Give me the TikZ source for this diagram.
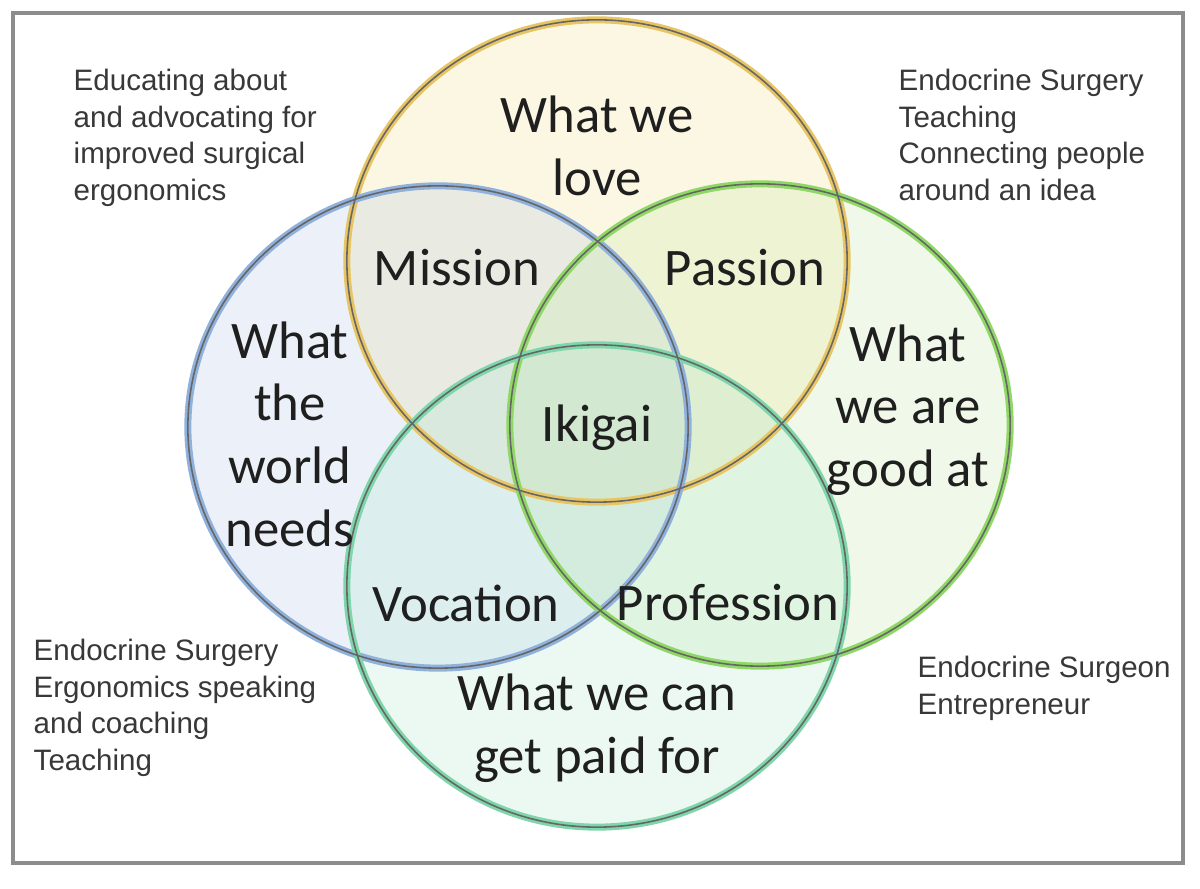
\documentclass[tikz,border=0pt]{standalone}
\usepackage{fontspec}
\setmainfont{Carlito}
\newfontfamily\notefont{Liberation Sans}
\usepackage{tikz}
\usetikzlibrary{positioning}

\definecolor{lovecol}{HTML}{F4DC80}
\definecolor{needscol}{HTML}{A9C3E6}
\definecolor{goodcol}{HTML}{BCE89C}
\definecolor{paidcol}{HTML}{A6E4C8}
\definecolor{loveedge}{HTML}{E8C564}
\definecolor{needsedge}{HTML}{8FB1DC}
\definecolor{goodedge}{HTML}{8FD866}
\definecolor{paidedge}{HTML}{7ED6AA}

\begin{document}
\begin{tikzpicture}[x=0.01cm, y=-0.01cm]
  \tikzstyle{ring}=[line width=2pt]
  \tikzstyle{rim}=[draw=black!60, line width=0.45pt]
  \tikzstyle{circtxt}=[align=center, inner sep=0pt, text=black!88, font=\fontsize{15}{17.8}\selectfont]
  \tikzstyle{note}=[align=left, anchor=north west, inner sep=0pt, text=black!78, font=\notefont\fontsize{8.4}{10.5}\selectfont]

  \useasboundingbox (0,0) rectangle (1200,889);
  \fill[white] (0,0) rectangle (1200,889);

  % the four circles, fills first
  \begin{scope}[fill opacity=0.22]
    \fill[lovecol]  (597,261) ellipse [x radius=2.5cm, y radius=2.41cm];
    \fill[needscol] (438,427) ellipse [x radius=2.5cm, y radius=2.41cm];
    \fill[goodcol]  (760,425) ellipse [x radius=2.5cm, y radius=2.41cm];
    \fill[paidcol]  (597,586) ellipse [x radius=2.5cm, y radius=2.41cm];
  \end{scope}

  % circle outlines
  \draw[ring, loveedge]  (597,261) ellipse [x radius=2.5cm, y radius=2.41cm];
  \draw[ring, needsedge] (438,427) ellipse [x radius=2.5cm, y radius=2.41cm];
  \draw[ring, goodedge]  (760,425) ellipse [x radius=2.5cm, y radius=2.41cm];
  \draw[ring, paidedge]  (597,586) ellipse [x radius=2.5cm, y radius=2.41cm];
  \foreach \c in {(597,261), (438,427), (760,425), (597,586)} {
    \draw[rim] \c ellipse [x radius=2.5cm, y radius=2.41cm];
  }

  % circle texts
  \node (love) at (597,146) [circtxt] {What we\\love};
  \node (needs) at (290,434) [circtxt] {What\\the\\world\\needs};
  \node (goodat) at (908,410) [circtxt] {What\\we are\\good at};
  \node (paid) at (597,728) [circtxt] {What we can\\get paid for};

  % overlaps
  \node (mission) at (457,268) [circtxt] {Mission};
  \node (passion) at (745,268) [circtxt] {Passion};
  \node (ikigai) at (597,428) [circtxt] {Ikigai};
  \node (vocation) at (466,603) [circtxt] {Vocation};
  \node (profession) at (728,603) [circtxt] {Profession};

  % side notes
  \node (notetl) at (73,68) [note] {Educating about\\and advocating for\\improved surgical\\ergonomics};
  \node (notetr) at (898,68) [note] {Endocrine Surgery\\Teaching\\Connecting people\\around an idea};
  \node (notebl) at (33,638) [note] {Endocrine Surgery\\Ergonomics speaking\\and coaching\\Teaching};
  \node (notebr) at (917,655) [note] {Endocrine Surgeon\\Entrepreneur};

  % frame
  \draw[black!45, line width=1.2pt] (13,13) rectangle (1183,863);
\end{tikzpicture}
\end{document}
